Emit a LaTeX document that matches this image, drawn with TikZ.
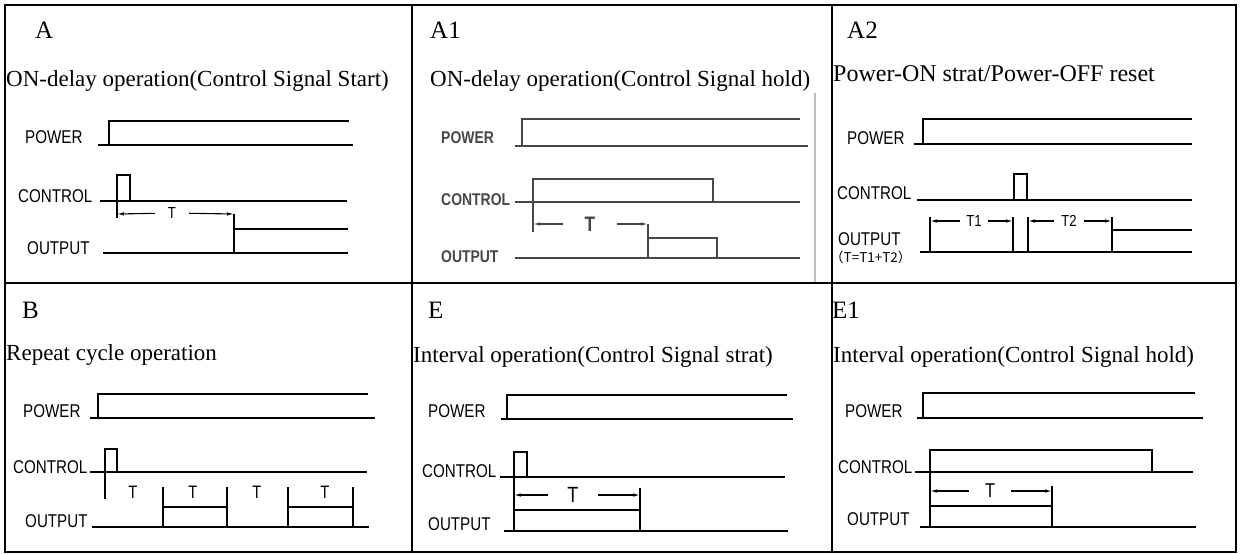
\documentclass[tikz,border=0pt]{standalone}
\usepackage{fontspec}
\setmainfont{Liberation Serif}
\newfontfamily\sigfont[FakeStretch=0.82]{Liberation Sans}
\newfontfamily\cjkfont{Noto Sans CJK SC}
\usetikzlibrary{arrows.meta}

\tikzset{
  cellline/.style={line width=2pt},
  wave/.style={line width=1.3pt},
  tarrow/.style={line width=1.1pt,-{Latex[length=7,width=3.5]}},
  letter/.style={anchor=base west,inner sep=0pt,font=\fontsize{25}{25}\selectfont},
  title/.style={anchor=base west,inner sep=0pt,font=\fontsize{23}{23}\selectfont},
  sig/.style={anchor=base west,inner sep=0pt,font=\sigfont\fontsize{18.5}{18.5}\selectfont},
  tlabel/.style={inner sep=0pt,font=\sigfont\fontsize{16}{16}\selectfont},
}

\begin{document}
\begin{tikzpicture}[x=1pt,y=-1pt]
\useasboundingbox (0,0) rectangle (1243,554);
% table
\draw[cellline] (5,5) rectangle (1236,552);
\foreach\x in {412,832}{
  \draw[cellline] (\x,5) -- (\x,552);
}
\draw[cellline] (5,283) -- (1236,283);

% A
\node[letter] (letA) at (35,38) {A};
\node[title] (titA) at (6,86) {ON-delay operation(Control Signal Start)};
\node[sig] (pwrA) at (25,143) {POWER};
\node[sig] (ctlA) at (18,202) {CONTROL};
\node[sig] (outA) at (27,254) {OUTPUT};
\draw[wave] (98,145) -- (353,145) (109,145) |- (349,121);
\draw[wave] (100,201) -- (347,201) (117,201) |- (130,175) -- (130,201);
\draw[wave] (103,253) -- (348,253) (234,229) -- (348,229);
\draw[wave] (117,201) -- (117,218) (234,214) -- (234,253);
\coordinate (tA1) at (117,214);
\coordinate (tA2) at (234,214);
\node[tlabel,minimum width=34] (tA) at (172,213) {T};
\draw[tarrow] (tA) -- (tA1);
\draw[tarrow] (tA) -- (tA2);

% A1
\node[letter] (letAa) at (430,38) {A1};
\node[title] (titAa) at (430,86) {ON-delay operation(Control Signal hold)};
\begin{scope}[black!72]
\node[sig,font=\sigfont\bfseries\fontsize{17}{17}\selectfont] (pwrAa) at (441,143) {POWER};
\node[sig,font=\sigfont\bfseries\fontsize{17}{17}\selectfont] (ctlAa) at (441,205) {CONTROL};
\node[sig,font=\sigfont\bfseries\fontsize{17}{17}\selectfont] (outAa) at (441,262) {OUTPUT};
\draw[wave] (515,146) -- (808,146) (522,146) |- (800,119);
\draw[wave] (515,202) -- (800,202) (533,202) |- (713,179) -- (713,202);
\draw[wave] (515,258) -- (800,258) (648,238) -- (717,238) -- (717,258);
\draw[wave] (533,202) -- (533,232) (648,224) -- (648,258);
\coordinate (tAa1) at (533,224);
\coordinate (tAa2) at (648,224);
\node[tlabel,minimum width=54,font=\sigfont\bfseries\fontsize{21}{21}\selectfont] (tAa) at (590,224) {T};
\draw[tarrow] (tAa) -- (tAa1);
\draw[tarrow] (tAa) -- (tAa2);
\end{scope}
\draw[black!25,line width=1.5pt] (815,93) -- (815,282);

% A2
\node[letter] (letAb) at (847,38) {A2};
\node[title,font=\fontsize{24}{24}\selectfont] (titAb) at (833,81) {Power-ON strat/Power-OFF reset};
\node[sig] (pwrAb) at (847,144) {POWER};
\node[sig] (ctlAb) at (837,199) {CONTROL};
\node[sig] (outAb) at (838,245) {OUTPUT};
\node[anchor=base west,inner sep=0pt,font=\cjkfont\fontsize{13.5}{13.5}\selectfont] (sumAb) at (830,262) {（T=T1+T2）};
\draw[wave] (914,144) -- (1192,144) (923,144) |- (1192,119);
\draw[wave] (917,200) -- (1192,200) (1014,200) |- (1027,174) -- (1027,200);
\draw[wave] (920,252) -- (1192,252);
\foreach\x in {930,1013,1028,1112}{
  \draw[wave] (\x,217) -- (\x,252);
}
\draw[line width=2pt] (1112,230) -- (1192,230);
\coordinate (tAb1) at (930,221);
\coordinate (tAb2) at (1013,221);
\coordinate (tAb3) at (1028,221);
\coordinate (tAb4) at (1112,221);
\node[tlabel,minimum width=28] (tAbA) at (974,221) {T1};
\node[tlabel,minimum width=30] (tAbB) at (1069,221) {T2};
\draw[tarrow] (tAbA) -- (tAb1);
\draw[tarrow] (tAbA) -- (tAb2);
\draw[tarrow] (tAbB) -- (tAb3);
\draw[tarrow] (tAbB) -- (tAb4);

% B
\node[letter] (letB) at (22,318) {B};
\node[title] (titB) at (6,360) {Repeat cycle operation};
\node[sig] (pwrB) at (23,417) {POWER};
\node[sig] (ctlB) at (13,473) {CONTROL};
\node[sig] (outB) at (25,527) {OUTPUT};
\draw[wave] (90,418) -- (375,418) (98,418) |- (368,394);
\draw[wave] (90,472) -- (367,472) (105,472) |- (117,449) -- (117,472);
\draw[wave] (105,472) -- (105,499);
\draw[wave] (92,527) -- (369,527);
\foreach\x in {163,227,288,353}{
  \draw[wave] (\x,487) -- (\x,527);
}
\draw[wave] (163,507) -- (227,507) (288,507) -- (353,507);
\foreach[count=\i]\x in {133,193,257,325}{
  \node[tlabel,font=\sigfont\fontsize{18}{18}\selectfont] (tB\i) at (\x,492) {T};
}

% E
\node[letter] (letE) at (428,318) {E};
\node[title] (titE) at (413,362) {Interval operation(Control Signal strat)};
\node[sig] (pwrE) at (428,417) {POWER};
\node[sig] (ctlE) at (422,477) {CONTROL};
\node[sig] (outE) at (428,530) {OUTPUT};
\draw[wave] (501,419) -- (793,419) (507,419) |- (787,395);
\draw[wave] (500,477) -- (785,477) (514,477) |- (527,452) -- (527,477);
\draw[wave] (504,531) -- (788,531) (514,477) -- (514,531) (514,510) -- (640,510) (640,488) -- (640,531);
\coordinate (tE1) at (514,495);
\coordinate (tE2) at (640,495);
\node[tlabel,minimum width=50,font=\sigfont\fontsize{22}{22}\selectfont] (tE) at (573,495) {T};
\draw[tarrow] (tE) -- (tE1);
\draw[tarrow] (tE) -- (tE2);

% E1
\node[letter] (letEa) at (832,318) {E1};
\node[title] (titEa) at (833,362) {Interval operation(Control Signal hold)};
\node[sig] (pwrEa) at (845,417) {POWER};
\node[sig] (ctlEa) at (838,473) {CONTROL};
\node[sig] (outEa) at (847,525) {OUTPUT};
\draw[wave] (917,418) -- (1203,418) (923,418) |- (1195,393);
\draw[wave] (915,472) -- (1193,472) (930,472) |- (1152,450) -- (1152,472);
\draw[wave] (920,527) -- (1196,527) (930,472) -- (930,527) (930,506) -- (1052,506) (1052,486) -- (1052,527);
\coordinate (tEa1) at (930,491);
\coordinate (tEa2) at (1052,491);
\node[tlabel,minimum width=42,font=\sigfont\fontsize{20}{20}\selectfont] (tEa) at (990,491) {T};
\draw[tarrow] (tEa) -- (tEa1);
\draw[tarrow] (tEa) -- (tEa2);
\end{tikzpicture}
\end{document}
